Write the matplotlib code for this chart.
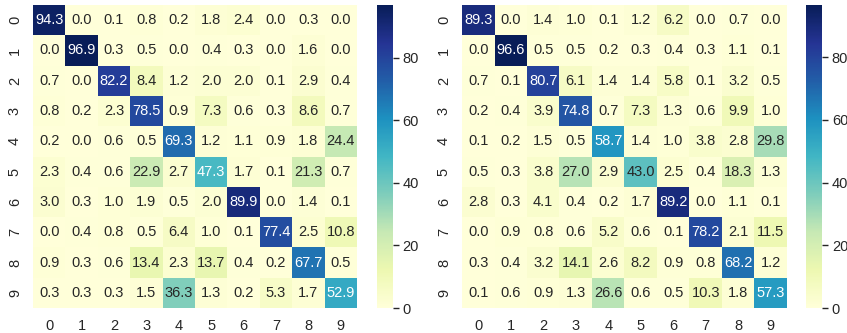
import matplotlib
matplotlib.use("Agg")
import matplotlib.pyplot as plt
import matplotlib.colors as mcolors
import numpy as np

plt.rcParams['font.family'] = ['Liberation Sans', 'DejaVu Sans']

labels = [str(i) for i in range(10)]

conf_a = [
    [94.3, 0.0, 0.1, 0.8, 0.2, 1.8, 2.4, 0.0, 0.3, 0.0],
    [0.0, 96.9, 0.3, 0.5, 0.0, 0.4, 0.3, 0.0, 1.6, 0.0],
    [0.7, 0.0, 82.2, 8.4, 1.2, 2.0, 2.0, 0.1, 2.9, 0.4],
    [0.8, 0.2, 2.3, 78.5, 0.9, 7.3, 0.6, 0.3, 8.6, 0.7],
    [0.2, 0.0, 0.6, 0.5, 69.3, 1.2, 1.1, 0.9, 1.8, 24.4],
    [2.3, 0.4, 0.6, 22.9, 2.7, 47.3, 1.7, 0.1, 21.3, 0.7],
    [3.0, 0.3, 1.0, 1.9, 0.5, 2.0, 89.9, 0.0, 1.4, 0.1],
    [0.0, 0.4, 0.8, 0.5, 6.4, 1.0, 0.1, 77.4, 2.5, 10.8],
    [0.9, 0.3, 0.6, 13.4, 2.3, 13.7, 0.4, 0.2, 67.7, 0.5],
    [0.3, 0.3, 0.3, 1.5, 36.3, 1.3, 0.2, 5.3, 1.7, 52.9],
]

conf_b = [
    [89.3, 0.0, 1.4, 1.0, 0.1, 1.2, 6.2, 0.0, 0.7, 0.0],
    [0.0, 96.6, 0.5, 0.5, 0.2, 0.3, 0.4, 0.3, 1.1, 0.1],
    [0.7, 0.1, 80.7, 6.1, 1.4, 1.4, 5.8, 0.1, 3.2, 0.5],
    [0.2, 0.4, 3.9, 74.8, 0.7, 7.3, 1.3, 0.6, 9.9, 1.0],
    [0.1, 0.2, 1.5, 0.5, 58.7, 1.4, 1.0, 3.8, 2.8, 29.8],
    [0.5, 0.3, 3.8, 27.0, 2.9, 43.0, 2.5, 0.4, 18.3, 1.3],
    [2.8, 0.3, 4.1, 0.4, 0.2, 1.7, 89.2, 0.0, 1.1, 0.1],
    [0.0, 0.9, 0.8, 0.6, 5.2, 0.6, 0.1, 78.2, 2.1, 11.5],
    [0.3, 0.4, 3.2, 14.1, 2.6, 8.2, 0.9, 0.8, 68.2, 1.2],
    [0.1, 0.6, 0.9, 1.3, 26.6, 0.6, 0.5, 10.3, 1.8, 57.3],
]

TEXT = "#262626"
cmap = plt.get_cmap("YlGnBu")


def luminance(rgb):
    c = np.array(rgb[:3])
    c = np.where(c <= 0.03928, c / 12.92, ((c + 0.055) / 1.055) ** 2.4)
    return 0.2126 * c[0] + 0.7152 * c[1] + 0.0722 * c[2]


def draw_heatmap(ax, cax, data):
    data = np.array(data)
    norm = mcolors.Normalize(vmin=0, vmax=data.max())
    mesh = ax.pcolormesh(data, cmap=cmap, norm=norm)
    ax.set_xlim(0, 10)
    ax.set_ylim(10, 0)
    for i in range(10):
        for j in range(10):
            v = data[i, j]
            color = TEXT if luminance(cmap(norm(v))) > 0.408 else "white"
            ax.text(j + 0.5, i + 0.5, f"{v:.1f}", ha="center", va="center",
                    color=color, fontsize=10.5)
    ax.set_xticks(np.arange(10) + 0.5)
    ax.set_yticks(np.arange(10) + 0.5)
    ax.set_xticklabels(labels)
    ax.set_yticklabels(labels, rotation=90, va="center")
    ax.tick_params(length=0, labelsize=10.5, colors=TEXT, pad=8)
    for s in ax.spines.values():
        s.set_visible(False)

    cb = plt.colorbar(mesh, cax=cax)
    cb.outline.set_visible(False)
    cb.set_ticks([0, 20, 40, 60, 80])
    cb.ax.tick_params(labelsize=10.5, colors=TEXT, length=4, width=1, pad=3)


fig = plt.figure(figsize=(8.47, 3.33), dpi=100)
ax1 = fig.add_axes([0.039, 0.075, 0.3825, 0.91])
cax1 = fig.add_axes([0.445, 0.075, 0.019, 0.91])
ax2 = fig.add_axes([0.5455, 0.075, 0.3835, 0.91])
cax2 = fig.add_axes([0.9516, 0.075, 0.019, 0.91])

draw_heatmap(ax1, cax1, conf_a)
draw_heatmap(ax2, cax2, conf_b)

fig.savefig("out.png", dpi=100)
